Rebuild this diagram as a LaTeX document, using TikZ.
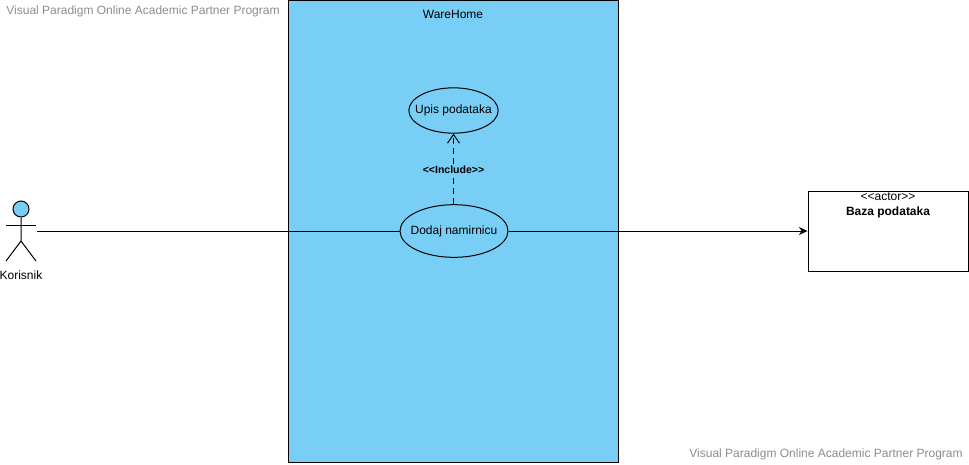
\documentclass[tikz,border=0pt]{standalone}
\usepackage{fontspec}
\setmainfont{Liberation Sans}
\usetikzlibrary{shapes.geometric, arrows, arrows.meta}
\definecolor{sysblue}{HTML}{79CEF6}
\definecolor{markgray}{HTML}{8C8C8C}
\newcommand{\uctext}[1]{\makebox[0pt]{#1}}
\tikzstyle{system} = [rectangle, draw=black, fill=sysblue, minimum width=247.5pt, minimum height=346.5pt, inner sep=0pt]
\tikzstyle{usecase} = [ellipse, draw=black, inner sep=0pt, font=\fontsize{9}{10}\selectfont]
\tikzstyle{externbox} = [rectangle, draw=black, fill=white, minimum width=120pt, minimum height=60pt, inner sep=0pt]
\tikzstyle{caption} = [inner sep=0pt, font=\fontsize{9}{10}\selectfont]
\tikzstyle{watermark} = [inner sep=0pt, text=markgray, font=\fontsize{9}{10}\selectfont]
\tikzstyle{arrow} = [-{Stealth[length=6.5pt,width=6pt]}]
\tikzstyle{includeline} = [dash pattern=on 4.5pt off 3pt, -{Straight Barb[length=6.5pt,width=9pt]}]
\begin{document}
\begin{tikzpicture}[x=0.75pt,y=-0.75pt,line width=0.75pt]
            \useasboundingbox (0,0) rectangle (969,464);
            \node (system) [system] at (453.5,231) {};
            \node (title) [caption] at (453,14) {WareHome};
            \node (upis) [usecase, minimum width=67pt, minimum height=34pt] at (453.5,110.5) {\uctext{Upis podataka}};
            \node (dodaj) [usecase, minimum width=81pt, minimum height=39.5pt] at (454,231) {\uctext{Dodaj namirnicu}};
            \node (baza) [externbox] at (888,231) {};
            \node (stereo) [caption] at (888,197) {<{}<actor>{}>};
            \node (bazaname) [caption] at (888,212) {\bfseries Baza podataka};
            \node (actor) [minimum width=22.5pt, minimum height=45pt, inner sep=0pt] at (21,231) {};
            \node (head) [circle, draw=black, fill=sysblue, minimum size=12pt, inner sep=0pt] at (21,209) {};
            \node (korisnik) [caption] at (21,275) {Korisnik};
            \node (mark1) [watermark] at (143,11) {Visual Paradigm Online Academic Partner Program};
            \node (mark2) [watermark] at (826,454) {Visual Paradigm Online Academic Partner Program};

            \draw (head) -- (21,241) -- (6,261);
            \draw (21,241) -- (36,261);
            \draw (6,225) -- (36,225);

            \draw (actor.east) -- (dodaj);
            \draw [arrow] (dodaj) -- (baza);
            \draw [includeline] (dodaj.north -| upis.south) -- node[caption, fill=sysblue, inner ysep=1pt, yshift=-0.75pt]{\fontsize{7.9}{9}\selectfont\bfseries <{}<Include>{}>} (upis.south);
            \end{tikzpicture}
\end{document}
